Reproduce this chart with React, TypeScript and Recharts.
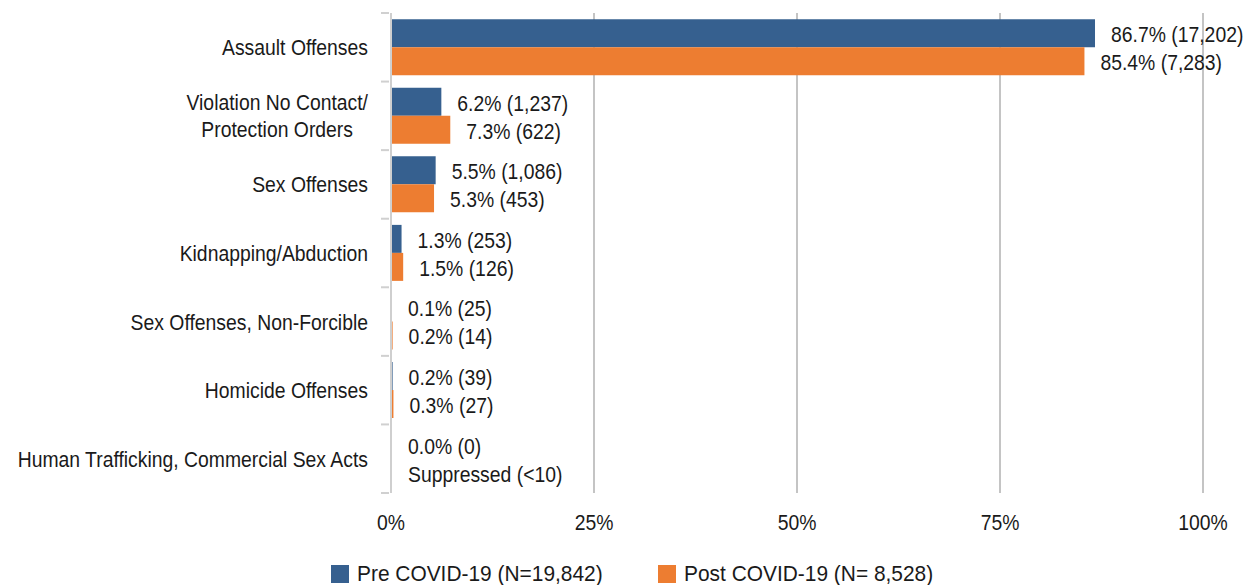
import React from 'react';
import { BarChart, Bar, XAxis, YAxis, CartesianGrid, Legend, LabelList, Cell } from 'recharts';

const categories = [
  'Assault Offenses',
  'Violation No Contact/|Protection Orders',
  'Sex Offenses',
  'Kidnapping/Abduction',
  'Sex Offenses, Non-Forcible',
  'Homicide Offenses',
  'Human Trafficking, Commercial Sex Acts',
];
const prePct = [86.7, 6.2, 5.5, 1.3, 0.1, 0.2, 0.0];
const postPct = [85.4, 7.3, 5.3, 1.5, 0.2, 0.3, 0];
const preCount = ['17,202', '1,237', '1,086', '253', '25', '39', '0'];
const postCount = ['7,283', '622', '453', '126', '14', '27', null];
const xTicks = [0, 25, 50, 75, 100];
const seriesNames = ['Pre COVID-19 (N=19,842)', 'Post COVID-19 (N= 8,528)'];

const BLUE = '#36608F';
const ORANGE = '#ED7D31';
const FONT = '"Liberation Sans", Arial, sans-serif';
const TEXT = '#1a1a1a';
const SX = 0.88;

const data = categories.map((name, i) => ({
  name,
  pre: prePct[i],
  post: postPct[i],
  preLabel: `${prePct[i].toFixed(1)}% (${preCount[i]})`,
  postLabel: postCount[i] === null ? 'Suppressed (<10)' : `${postPct[i].toFixed(1)}% (${postCount[i]})`,
}));

const W = 1248;
const H = 585;
const TOP = 13;
const PLOT_BOTTOM = 493;
const band = (PLOT_BOTTOM - TOP) / categories.length;

// narrow text: Liberation Sans squeezed horizontally around its anchor point
const NText = ({ x, y, anchor = 'start', children }: any) => (
  <text
    transform={`translate(${x},${y}) scale(${SX},1)`}
    textAnchor={anchor}
    dy="0.36em"
    fontFamily={FONT}
    fontSize={22}
    fill={TEXT}
  >
    {children}
  </text>
);

const CategoryTick = (props: any) => {
  const { x, y, payload, index } = props;
  const lines = String(payload.value).split('|');
  const lh = 27;
  const start = y - ((lines.length - 1) * lh) / 2;
  return (
    <g>
      <line x1={x - 2} x2={x + 6} y1={y - band / 2} y2={y - band / 2} stroke="#D0D0D0" strokeWidth={2} />
      {index === categories.length - 1 && (
        <line x1={x - 2} x2={x + 6} y1={y + band / 2} y2={y + band / 2} stroke="#D0D0D0" strokeWidth={2} />
      )}
      {lines.map((l, i) => (
        <NText key={i} x={x - 15 - (i > 0 ? 15 : 0)} y={start + i * lh} anchor="end">
          {l}
        </NText>
      ))}
    </g>
  );
};

const PctTick = (props: any) => {
  const { x, y, payload } = props;
  return (
    <NText x={x} y={y + 21} anchor="middle">
      {`${payload.value}%`}
    </NText>
  );
};

const valueLabel = (key: 'preLabel' | 'postLabel') => (props: any) => {
  const { x, y, width, height, index } = props;
  return (
    <NText x={x + width + 16} y={y + height / 2 + 1}>
      {data[index][key]}
    </NText>
  );
};

const LegendContent = () => (
  <div style={{ display: 'flex', justifyContent: 'center', paddingTop: 20, paddingLeft: 58 }}>
    {seriesNames.map((n, i) => (
      <div key={n} style={{ display: 'flex', alignItems: 'center', marginRight: i === 0 ? 55 : 0 }}>
        <span style={{ width: 18, height: 18, background: i === 0 ? BLUE : ORANGE, display: 'inline-block' }} />
        <span
          style={{
            fontFamily: FONT,
            fontSize: 22,
            color: TEXT,
            marginLeft: 8,
            display: 'inline-block',
            width: 246,
            whiteSpace: 'nowrap',
            transform: 'scaleX(0.95)',
            transformOrigin: 'left center',
            lineHeight: '18px',
          }}
        >
          {n}
        </span>
      </div>
    ))}
  </div>
);

export default function App() {
  return (
    <div style={{ position: 'absolute', left: 0, top: 0, width: W, height: H, background: '#fff' }}>
      <BarChart
        width={W}
        height={H}
        data={data}
        layout="vertical"
        margin={{ top: TOP, right: 45, bottom: 0, left: 0 }}
        barCategoryGap="9%"
        barGap={0}
      >
        <CartesianGrid horizontal={false} stroke="#C4C4C4" strokeWidth={2} />
        <XAxis
          type="number"
          domain={[0, 100]}
          ticks={xTicks}
          axisLine={false}
          tickLine={false}
          height={52}
          tick={<PctTick />}
        />
        <YAxis
          type="category"
          dataKey="name"
          width={391}
          axisLine={{ stroke: '#CFCFCF', strokeWidth: 2 }}
          tickLine={false}
          tick={<CategoryTick />}
          interval={0}
        />
        <Legend verticalAlign="bottom" height={40} content={<LegendContent />} />
        <Bar dataKey="pre" name={seriesNames[0]} fill={BLUE} minPointSize={1} isAnimationActive={false}>
          {data.map((d, i) => (
            <Cell key={i} fillOpacity={d.pre === 0 ? 0 : 1} />
          ))}
          <LabelList dataKey="preLabel" content={valueLabel('preLabel')} />
        </Bar>
        <Bar dataKey="post" name={seriesNames[1]} fill={ORANGE} minPointSize={1} isAnimationActive={false}>
          {data.map((d, i) => (
            <Cell key={i} fillOpacity={d.post === 0 ? 0 : 1} />
          ))}
          <LabelList dataKey="postLabel" content={valueLabel('postLabel')} />
        </Bar>
      </BarChart>
    </div>
  );
}
